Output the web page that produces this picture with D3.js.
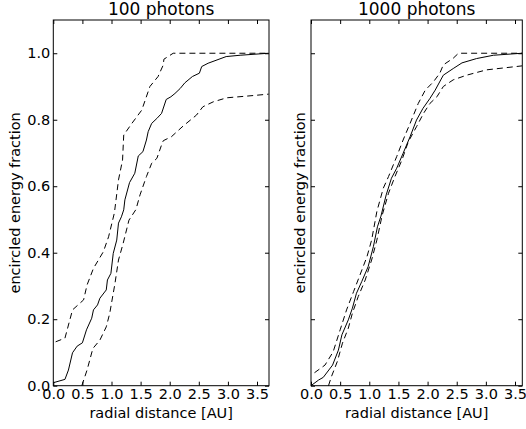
<!DOCTYPE html>
<html>
  <head>
    <title>encircled energy</title>
    <script src="https://cdn.jsdelivr.net/npm/d3@7"></script>
    <style>
      body { margin: 0; background: #fff; }
      text { font-family: "DejaVu Sans", sans-serif; fill: #000; }
    </style>
  </head>
  <body>
    <svg width="526" height="429" id="mainsvg"></svg>
    <script>
      // data: [radial distance, encircled fraction]
      const mean100 = [[0,0.009],[0.2,0.019],[0.26,0.047],[0.33,0.099],[0.41,0.119],[0.5,0.129],[0.57,0.168],[0.66,0.203],[0.69,0.228],[0.76,0.243],[0.8,0.263],[0.91,0.288],[0.93,0.318],[0.99,0.338],[1.03,0.398],[1.09,0.438],[1.12,0.489],[1.17,0.508],[1.21,0.529],[1.23,0.559],[1.31,0.611],[1.4,0.639],[1.46,0.691],[1.54,0.704],[1.6,0.739],[1.63,0.764],[1.69,0.789],[1.78,0.804],[1.86,0.819],[1.94,0.861],[2.02,0.869],[2.09,0.879],[2.18,0.894],[2.26,0.911],[2.39,0.93],[2.51,0.94],[2.55,0.96],[2.66,0.97],[2.97,0.99],[3.21,0.994],[3.7,1.0]];
      const upper100 = [[0.04,0.132],[0.2,0.143],[0.33,0.228],[0.52,0.258],[0.58,0.303],[0.69,0.353],[0.86,0.403],[0.95,0.448],[1.05,0.52],[1.12,0.619],[1.19,0.679],[1.21,0.754],[1.35,0.789],[1.52,0.829],[1.66,0.9],[1.8,0.93],[1.89,0.965],[1.9,0.982],[2.06,1.0],[3.7,1.0]];
      const lower100 = [[0.49,0.0],[0.58,0.047],[0.68,0.112],[0.8,0.137],[0.91,0.177],[0.97,0.218],[1.06,0.308],[1.12,0.378],[1.2,0.428],[1.3,0.498],[1.42,0.53],[1.49,0.574],[1.6,0.629],[1.69,0.669],[1.78,0.684],[1.87,0.729],[1.89,0.737],[2.03,0.749],[2.23,0.781],[2.46,0.814],[2.57,0.839],[2.75,0.854],[2.98,0.866],[3.32,0.871],[3.7,0.877]];

      const mean1000 = [[0,0],[0.13,0.017],[0.21,0.025],[0.37,0.062],[0.47,0.107],[0.53,0.153],[0.64,0.198],[0.71,0.233],[0.78,0.278],[0.87,0.313],[0.98,0.358],[1.07,0.418],[1.14,0.478],[1.2,0.51],[1.29,0.574],[1.38,0.624],[1.47,0.654],[1.58,0.699],[1.7,0.749],[1.81,0.799],[1.92,0.834],[2.04,0.864],[2.13,0.889],[2.27,0.934],[2.44,0.954],[2.59,0.971],[2.84,0.984],[3.13,0.994],[3.62,1.0]];
      const upper1000 = [[0.06,0.039],[0.24,0.062],[0.38,0.102],[0.5,0.168],[0.61,0.228],[0.73,0.283],[0.84,0.333],[0.96,0.388],[1.04,0.438],[1.13,0.524],[1.24,0.594],[1.33,0.629],[1.47,0.689],[1.58,0.739],[1.7,0.789],[1.84,0.849],[1.96,0.889],[2.1,0.914],[2.21,0.94],[2.27,0.965],[2.44,0.985],[2.53,1.0],[3.62,1.0]];
      const lower1000 = [[0.3,0],[0.35,0.027],[0.45,0.072],[0.54,0.128],[0.64,0.173],[0.71,0.218],[0.81,0.268],[0.93,0.318],[1.04,0.378],[1.13,0.438],[1.22,0.512],[1.33,0.579],[1.44,0.629],[1.56,0.679],[1.67,0.734],[1.81,0.779],[1.93,0.819],[2.04,0.849],[2.16,0.869],[2.27,0.9],[2.44,0.92],[2.67,0.934],[3.01,0.95],[3.62,0.962]];

      const xTicks = [0, 0.5, 1.0, 1.5, 2.0, 2.5, 3.0, 3.5];
      const yTicks = [0, 0.2, 0.4, 0.6, 0.8, 1.0];

      const svg = d3.select("#mainsvg");
      const yTop = 20, yBottom = 385.7;
      const y = d3.scaleLinear().domain([0, 1.1]).range([yBottom, yTop]);

      // ylabelX: baseline of the rotated y label
      const panels = [
        { title: "100 photons", left: 53.3, right: 269, xmax: 3.706, lines: [mean100, upper100, lower100], yLabels: true, ylabelX: 20 },
        { title: "1000 photons", left: 311, right: 522.3, xmax: 3.625, lines: [mean1000, upper1000, lower1000], yLabels: false, ylabelX: 305 }
      ];

      const fmt = d3.format(".1f");

      panels.forEach((p) => {
        const x = d3.scaleLinear().domain([0, p.xmax]).range([p.left, p.right]);
        const g = svg.append("g");
        const w = p.right - p.left;

        // lines
        const line = d3.line().x((d) => x(d[0])).y((d) => y(d[1]));
        p.lines.forEach((data, i) => {
          g.append("path")
            .datum(data)
            .attr("d", line)
            .attr("fill", "none")
            .attr("stroke", "#000")
            .attr("stroke-width", 1)
            .attr("stroke-dasharray", i === 0 ? null : "6,4");
        });

        // axes, ticks inside on all sides
        const bx = g.append("g").attr("transform", `translate(0,${yBottom})`)
          .call(d3.axisBottom(x).tickValues(xTicks).tickFormat(fmt).tickSizeInner(-4).tickSizeOuter(0).tickPadding(3));
        const tx = g.append("g").attr("transform", `translate(0,${yTop})`)
          .call(d3.axisTop(x).tickValues(xTicks).tickFormat("").tickSizeInner(-4).tickSizeOuter(0));
        const ly = g.append("g").attr("transform", `translate(${p.left},0)`)
          .call(d3.axisLeft(y).tickValues(yTicks).tickFormat(p.yLabels ? fmt : "").tickSizeInner(-4).tickSizeOuter(0).tickPadding(3));
        const ry = g.append("g").attr("transform", `translate(${p.right},0)`)
          .call(d3.axisRight(y).tickValues(yTicks).tickFormat("").tickSizeInner(-4).tickSizeOuter(0));
        [bx, tx, ly, ry].forEach((a) => {
          a.select(".domain").remove();
          a.selectAll("text").attr("font-size", 14.5).attr("font-family", "DejaVu Sans");
          a.selectAll("line").attr("stroke", "#000");
        });

        // frame
        g.append("rect")
          .attr("x", p.left).attr("y", yTop)
          .attr("width", w).attr("height", yBottom - yTop)
          .attr("fill", "none").attr("stroke", "#000").attr("stroke-width", 1);

        // title and labels
        g.append("text")
          .attr("x", p.left + w / 2).attr("y", 15)
          .attr("text-anchor", "middle").attr("font-size", 17)
          .text(p.title);
        g.append("text")
          .attr("x", p.left + w / 2).attr("y", 418)
          .attr("text-anchor", "middle").attr("font-size", 14.5)
          .text("radial distance [AU]");
        g.append("text")
          .attr("transform", `translate(${p.ylabelX},${(yTop + yBottom) / 2}) rotate(-90)`)
          .attr("text-anchor", "middle").attr("font-size", 14.5)
          .text("encircled energy fraction");
      });
    </script>
  </body>
</html>
